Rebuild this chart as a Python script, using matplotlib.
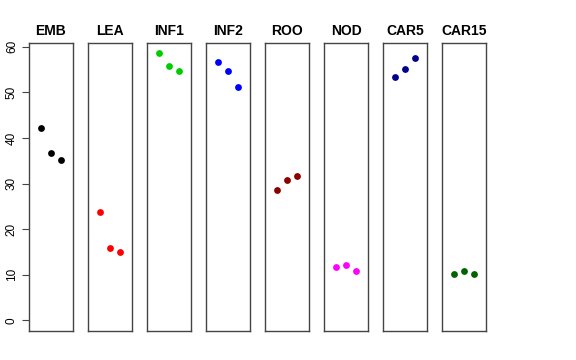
import matplotlib
matplotlib.use('Agg')
import matplotlib.pyplot as plt

plt.rcParams['font.family'] = ['Liberation Sans', 'DejaVu Sans']

# panels and their three values each
groups = ['EMB', 'LEA', 'INF1', 'INF2', 'ROO', 'NOD', 'CAR5', 'CAR15']
colors = ['#000000', '#FF0000', '#00CD00', '#0000FF',
          '#8B0000', '#FF00FF', '#00008B', '#006400']
positions = [1, 2, 3]
emb = [42.2, 36.7, 35.1]
lea = [23.7, 15.8, 14.9]
inf1 = [58.6, 55.8, 54.8]
inf2 = [56.6, 54.6, 51.1]
roo = [28.6, 30.7, 31.7]
nod = [11.7, 12.2, 10.8]
car5 = [53.3, 55.1, 57.6]
car15 = [10.2, 10.8, 10.2]
values = [emb, lea, inf1, inf2, roo, nod, car5, car15]
yticks = [0, 10, 20, 30, 40, 50, 60]

fig = plt.figure(figsize=(5.76, 3.6), dpi=100)

W, H = 576, 360
for i, (name, col, vals) in enumerate(zip(groups, colors, values)):
    left = (29 + i * 59) / W
    ax = fig.add_axes([left, 1 - 331 / H, 44 / W, 288 / H])
    ax.scatter(positions, vals, s=24, color=col, zorder=3, linewidths=0)
    ax.set_xlim(-0.16, 4.16)
    ax.set_ylim(-2.34, 60.84)
    ax.set_xticks([])
    for sp in ax.spines.values():
        sp.set_color('#444444')
        sp.set_linewidth(1.0)
    ax.set_title(name, fontsize=10, fontweight='bold', pad=6)
    if i == 0:
        ax.set_yticks(yticks)
        ax.set_yticklabels([str(t) for t in yticks], rotation=90,
                           va='center', fontsize=8.5)
        ax.tick_params(axis='y', length=5, width=0.8, color='#444444', pad=3)
    else:
        ax.set_yticks([])

fig.savefig('out.png', dpi=100)
